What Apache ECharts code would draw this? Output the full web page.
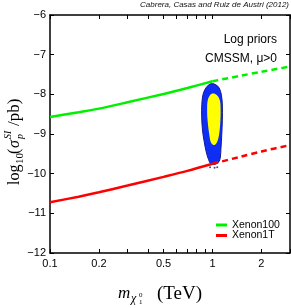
<!DOCTYPE html>
<html><head><meta charset="utf-8">
<script src="https://cdn.jsdelivr.net/npm/echarts@6/dist/echarts.min.js"></script>
<style>html,body{margin:0;padding:0;background:#fff}#c{width:291px;height:308px}</style>
</head><body><div id="c"></div>
<script>
// ---- data ----
const xTickValues = [0.1,0.2,0.3,0.4,0.5,0.6,0.7,0.8,0.9,1,2,3];
const xTickLabels = [0.1,0.2,0.5,1,2];
const yTickLabels = [-12,-11,-10,-9,-8,-7,-6];

const xenon100SolidMass = [0.1,0.15,0.2,0.3,0.5,0.7,1.0];
const xenon100SolidVal  = [-8.57,-8.45,-8.36,-8.20,-7.99,-7.84,-7.67];
const xenon100DashMass  = [1.0,1.5,2.0,3.0];
const xenon100DashVal   = [-7.67,-7.53,-7.43,-7.30];

const xenon1TSolidMass = [0.1,0.15,0.2,0.3,0.5,0.7,1.0];
const xenon1TSolidVal  = [-10.72,-10.58,-10.47,-10.30,-10.08,-9.93,-9.75];
const xenon1TDashMass  = [1.0,1.5,2.0,3.0];
const xenon1TDashVal   = [-9.75,-9.57,-9.44,-9.28];

// 2-sigma region contour (mass TeV, log10 sigma)
const outerMass = [0.990,1.050,1.100,1.135,1.150,1.150,1.140,1.128,1.118,1.095,1.045,0.978,0.945,0.915,0.890,0.868,0.858,0.860,0.875,0.910,0.950];
const outerVal  = [-7.73,-7.76,-7.84,-8.02,-8.27,-8.65,-9.03,-9.36,-9.58,-9.70,-9.76,-9.75,-9.64,-9.45,-9.20,-8.90,-8.55,-8.25,-8.00,-7.84,-7.76];
// 1-sigma region contour
const innerMass = [1.008,1.065,1.110,1.122,1.117,1.100,1.068,1.025,0.980,0.955,0.935,0.927,0.935,0.965];
const innerVal  = [-7.98,-8.02,-8.15,-8.40,-8.70,-9.00,-9.20,-9.28,-9.22,-9.00,-8.70,-8.40,-8.15,-8.02];
// stray points below region
const strayMass = [0.966,1.03,1.07];
const strayVal  = [-9.84,-9.85,-9.84];

// ---- build ----
const L = Math.log10;
const pairs = (m, v) => m.map((x, i) => [L(x), v[i]]);
const fmtX = v => String(+Math.pow(10, v).toPrecision(2));
const axisFont = {fontFamily: 'Liberation Sans, Arial, sans-serif', fontSize: 11, color: '#000'};

function polyItem(mass, val, fill, stroke, lw) {
  return function (params, api) {
    if (params.dataIndex !== 0) return null;
    const pts = mass.map((m, i) => api.coord([L(m), val[i]]));
    return {type: 'polygon', shape: {points: pts, smooth: 0.35},
      style: {fill: fill, stroke: stroke, lineWidth: lw}};
  };
}

const chart = echarts.init(document.getElementById('c'), null, {renderer: 'canvas'});
const lineBase = {type: 'line', showSymbol: false, symbol: 'none', smooth: 0.3, z: 5, animation: false};
const option = {
  animation: false,
  grid: {left: 50, right: 1, top: 15, bottom: 55},
  xAxis: [
    {type: 'value', position: 'bottom', min: -1, max: L(3),
     axisLine: {show: true, onZero: false, lineStyle: {color: '#000', width: 1.5}},
     axisTick: {show: true, inside: true, length: 4, lineStyle: {color: '#000', width: 1}, customValues: xTickValues.map(L)},
     axisLabel: {show: true, customValues: xTickLabels.map(L), formatter: fmtX, margin: 5, ...axisFont},
     splitLine: {show: false}},
    {type: 'value', position: 'top', min: -1, max: L(3),
     axisLine: {show: true, onZero: false, lineStyle: {color: '#000', width: 1.5}},
     axisTick: {show: true, inside: true, length: 4, lineStyle: {color: '#000', width: 1}, customValues: xTickValues.map(L)},
     axisLabel: {show: false}, splitLine: {show: false}}
  ],
  yAxis: [
    {type: 'value', position: 'left', min: -12, max: -6, interval: 1,
     axisLine: {show: true, onZero: false, lineStyle: {color: '#000', width: 1.5}},
     axisTick: {show: true, inside: true, length: 4, lineStyle: {color: '#000', width: 1}},
     axisLabel: {show: true, margin: 4, formatter: v => (v < 0 ? '\u2212' + Math.abs(v) : String(v)), ...axisFont},
     splitLine: {show: false}},
    {type: 'value', position: 'right', min: -12, max: -6, interval: 1,
     axisLine: {show: true, onZero: false, lineStyle: {color: '#000', width: 1.5}},
     axisTick: {show: true, inside: true, length: 4, lineStyle: {color: '#000', width: 1}},
     axisLabel: {show: false}, splitLine: {show: false}}
  ],
  legend: [
    {data: [{name: 'Xenon100', icon: 'rect'}], left: 216, top: 219.5, padding: 0, itemWidth: 11, itemHeight: 3, itemGap: 0,
     textStyle: {fontFamily: 'Liberation Sans, Arial, sans-serif', fontSize: 10.5, lineHeight: 11, color: '#000'}},
    {data: [{name: 'Xenon1T', icon: 'rect'}], left: 216, top: 230, padding: 0, itemWidth: 11, itemHeight: 3, itemGap: 0,
     textStyle: {fontFamily: 'Liberation Sans, Arial, sans-serif', fontSize: 10.5, lineHeight: 11, color: '#000'}}
  ],
  series: [
    {type: 'custom', name: 'outer', coordinateSystem: 'cartesian2d', z: 2, silent: true,
     data: [[L(outerMass[0]), outerVal[0]]], renderItem: polyItem(outerMass, outerVal, '#0f2ef5', '#101a90', 1), clip: true},
    {type: 'custom', name: 'inner', coordinateSystem: 'cartesian2d', z: 3, silent: true,
     data: [[L(innerMass[0]), innerVal[0]]], renderItem: polyItem(innerMass, innerVal, '#ffff00', null, 0), clip: true},
    {type: 'scatter', name: 'stray', z: 3, symbolSize: 2, itemStyle: {color: '#1a1a60'}, data: pairs(strayMass, strayVal), silent: true},
    {...lineBase, name: 'Xenon100', color: '#00f000', lineStyle: {color: '#00f000', width: 2.5}, data: pairs(xenon100SolidMass, xenon100SolidVal)},
    {...lineBase, name: 'Xenon100', color: '#00f000', lineStyle: {color: '#00f000', width: 2.5, type: [6, 4]}, data: pairs(xenon100DashMass, xenon100DashVal)},
    {...lineBase, name: 'Xenon1T', color: '#ff0000', lineStyle: {color: '#ff0000', width: 2.5}, data: pairs(xenon1TSolidMass, xenon1TSolidVal)},
    {...lineBase, name: 'Xenon1T', color: '#ff0000', lineStyle: {color: '#ff0000', width: 2.5, type: [6, 4]}, data: pairs(xenon1TDashMass, xenon1TDashVal)}
  ],
  graphic: [
    {type: 'text', right: 2, top: 1, style: {text: 'Cabrera, Casas and Ruiz de Austri (2012)', font: 'italic 8px Liberation Sans, Arial, sans-serif', fill: '#111'}},
    {type: 'text', x: 277, y: 40, style: {text: 'Log priors', font: '12px Liberation Sans, Arial, sans-serif', fill: '#000', align: 'right', verticalAlign: 'middle'}},
    {type: 'text', x: 277, y: 58.5, style: {text: 'CMSSM, \u03bc>0', font: '12px Liberation Sans, Arial, sans-serif', fill: '#000', align: 'right', verticalAlign: 'middle'}},
    // y axis name
    {type: 'group', x: 15, y: 185, rotation: Math.PI / 2, children: [
      {type: 'text', x: 0, y: 0, style: {text: 'log', font: '16px Liberation Serif, serif', fill: '#000', verticalAlign: 'middle'}},
      {type: 'text', x: 21, y: 5, style: {text: '10', font: '11px Liberation Serif, serif', fill: '#000', verticalAlign: 'middle'}},
      {type: 'text', x: 31, y: 0, style: {text: '(', font: '16px Liberation Serif, serif', fill: '#000', verticalAlign: 'middle'}},
      {type: 'text', x: 37, y: 0, style: {text: '\u03c3', font: 'italic 16px Liberation Serif, serif', fill: '#000', verticalAlign: 'middle'}},
      {type: 'text', x: 46, y: -7, style: {text: 'SI', font: 'italic 10px Liberation Serif, serif', fill: '#000', verticalAlign: 'middle'}},
      {type: 'text', x: 46, y: 5, style: {text: 'p', font: 'italic 10px Liberation Serif, serif', fill: '#000', verticalAlign: 'middle'}},
      {type: 'text', x: 59, y: 0, style: {text: '/pb)', font: '17px Liberation Serif, serif', fill: '#000', verticalAlign: 'middle'}}
    ]},
    // x axis name
    {type: 'group', x: 0, y: 0, children: [
      {type: 'text', x: 118, y: 294, style: {text: 'm', font: 'italic 17px Liberation Serif, serif', fill: '#000', verticalAlign: 'middle'}},
      {type: 'text', x: 131, y: 299, style: {text: '\u03c7', font: 'italic 12px Liberation Serif, serif', fill: '#000', verticalAlign: 'middle'}},
      {type: 'text', x: 139, y: 295, style: {text: '0', font: '7px Liberation Serif, serif', fill: '#000', verticalAlign: 'middle'}},
      {type: 'text', x: 139, y: 302, style: {text: '1', font: '7px Liberation Serif, serif', fill: '#000', verticalAlign: 'middle'}},
      {type: 'text', x: 157, y: 294, style: {text: '(TeV)', font: '19px Liberation Serif, serif', fill: '#000', verticalAlign: 'middle'}}
    ]}
  ]
};
chart.setOption(option);
</script></body></html>
